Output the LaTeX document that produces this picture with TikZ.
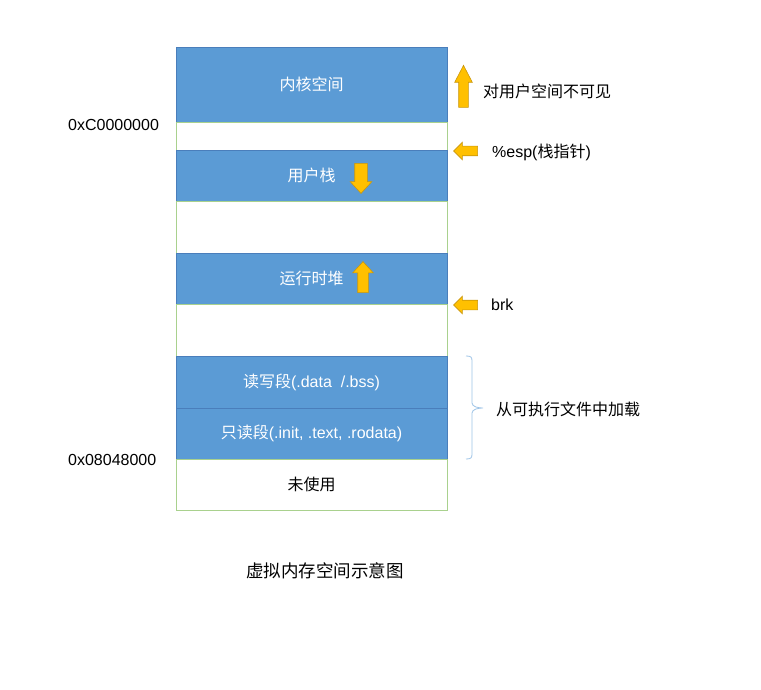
\documentclass[tikz,border=0pt]{standalone}
\usepackage{fontspec}
\setmainfont{Liberation Sans}
\newfontfamily\cjk{Noto Sans CJK SC}
\usepackage{xcolor}
\usepackage{tikz}
\usetikzlibrary{shapes.arrows,calc}
\definecolor{segblue}{HTML}{5B9BD5}
\definecolor{segline}{HTML}{4A7EBB}
\definecolor{gapline}{HTML}{A9D18E}
\definecolor{arrfill}{HTML}{FFC000}
\definecolor{arrline}{HTML}{C9960C}
\definecolor{bracecol}{HTML}{9DC3E6}

\begin{document}
\begin{tikzpicture}[x=1pt,y=-1pt,
  row/.style={anchor=north west, minimum width=271pt, inner sep=0pt, outer sep=0pt,
    line width=0.9pt, font=\fontsize{16}{19}\selectfont},
  seg/.style={row, draw=segline, fill=segblue, text=white},
  gap/.style={row, draw=gapline, fill=white},
  lbl/.style={inner sep=0pt, font=\fontsize{16}{19}\selectfont},
  barr/.style={single arrow, draw=arrline, fill=arrfill, line width=0.6pt}]
\useasboundingbox (0,0) rectangle (761,690);
% memory rows, top to bottom
\foreach \n/\t/\h/\s/\txt in {
  kern/47/75/seg/{{\cjk 内核空间}},
  gA/122/28/gap/{},
  stack/150/51/seg/{{\cjk 用户栈}},
  gB/201/52/gap/{},
  heap/253/51/seg/{{\cjk 运行时堆}},
  gC/304/52/gap/{},
  rw/356/52/seg/{{\cjk 读写段}(.data\ \ /.bss)},
  ro/408/51/seg/{{\cjk 只读段}(.init, .text, .rodata)},
  unused/459/51/gap/{{\cjk 未使用}}}
  \node[\s, minimum height=\h pt] (\n) at (176,\t) {\txt};
% growth arrows inside the rows
\node[barr, shape border rotate=270, minimum height=30pt, inner sep=6pt,
  single arrow head extend=4.5pt, single arrow tip angle=85] (sdown) at (361,175) {};
\node[barr, shape border rotate=90, minimum height=31pt, inner sep=5pt,
  single arrow head extend=5pt, single arrow tip angle=85] (hup) at (363,280) {};
% addresses
\node[lbl, anchor=west] (topaddr) at (68,125) {0xC0000000};
\node[lbl, anchor=west] (lowaddr) at (68,460) {0x08048000};
% right side marks
\node[barr, shape border rotate=90, minimum height=42pt, inner sep=4.5pt,
  single arrow head extend=4pt, single arrow tip angle=55] (kup) at (463.5,91) {};
\node[lbl, anchor=west] (hidden) at (483,91) {\cjk 对用户空间不可见};
\node[barr, shape border rotate=180, minimum height=24pt, inner sep=4.5pt,
  single arrow head extend=4pt, single arrow tip angle=90] (esparr) at (468,151) {};
\node[lbl, anchor=west] (esp) at (492,152) {\%esp({\cjk 栈指针})};
\node[barr, shape border rotate=180, minimum height=24pt, inner sep=4.5pt,
  single arrow head extend=4pt, single arrow tip angle=90] (brkarr) at (468,305) {};
\node[lbl, anchor=west] (brk) at (491,305) {brk};
% brace over the loaded segments
\coordinate (btop) at ($(rw.north east)+(19,0)$);
\coordinate (bmid) at ($(rw.south east)+(36,0)$);
\coordinate (bbot) at ($(ro.south east)+(19,0)$);
\draw[bracecol, line width=0.8pt]
  (btop) .. controls ++(5,0) and ++(0,-4) .. ($(btop)+(6,5)$)
  -- ($(bmid)+(-11,-5)$) .. controls ++(0,4) and ++(-4,0) .. (bmid)
  .. controls ++(-4,0) and ++(0,-4) .. ($(bmid)+(-11,5)$)
  -- ($(bbot)+(6,-5)$) .. controls ++(0,4) and ++(5,0) .. (bbot);
\node[lbl, anchor=west] (load) at (496,409) {\cjk 从可执行文件中加载};
% caption
\node[lbl, font=\cjk\fontsize{17.5}{20}\selectfont] (cap) at (325,571) {虚拟内存空间示意图};
\end{tikzpicture}
\end{document}
